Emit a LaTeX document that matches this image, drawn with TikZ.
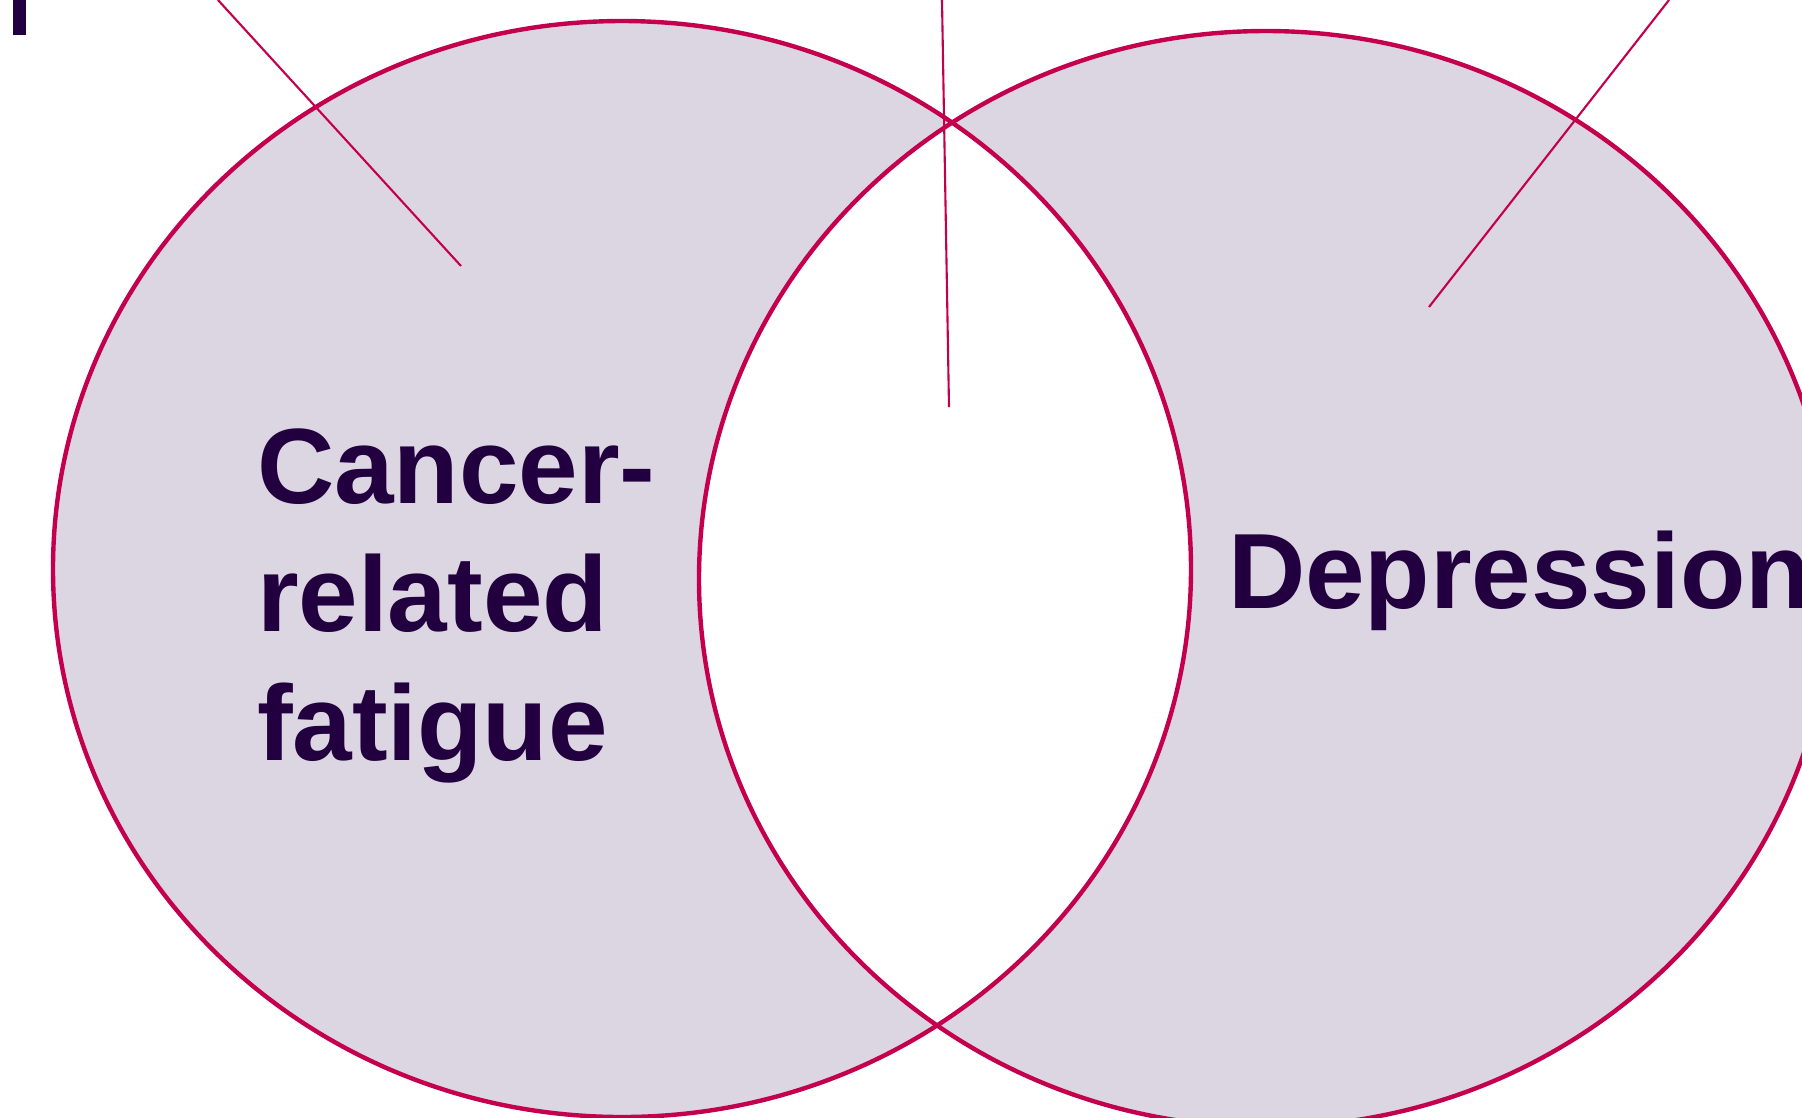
\documentclass[tikz,border=0pt]{standalone}
\usepackage{fontspec}
\setmainfont{Liberation Sans}
\definecolor{vennfill}{RGB}{220,213,226}
\definecolor{vennline}{RGB}{196,0,78}
\definecolor{venntext}{RGB}{34,0,64}
\begin{document}
\begin{tikzpicture}[x=0.01cm,y=-0.01cm,
  setline/.style={draw=vennline,line width=1.25pt},
  pointer/.style={draw=vennline,line width=0.6pt},
  setlabel/.style={text=venntext,inner sep=0pt,outer sep=0pt,
    font=\fontsize{30.44pt}{36.56pt}\selectfont\bfseries}]
\useasboundingbox (0,0) rectangle (1802,1117);
\begin{scope}
\clip (0,0) rectangle (1802,1117);
% sets: symmetric difference filled, overlap left white
\fill[vennfill,even odd rule]
  (622,569) ellipse [x radius=569, y radius=548]
  (1266,579) ellipse [x radius=567, y radius=548];
\path[setline] (622,569) ellipse [x radius=569, y radius=548];
\path[setline] (1266,579) ellipse [x radius=567, y radius=548];
% fragment of a glyph cut by the top edge
\fill[venntext] (13,0) rectangle (26,35);
% labels
\node[setlabel,anchor=base west,text width=5cm,align=left] (crf) at (257,503)
  {Cancer-\\related\\fatigue};
\node[setlabel,anchor=base west] (dep) at (1228,608) {Depression};
% pointer lines
\coordinate (p1s) at (218,0);
\coordinate (p1e) at (461,266);
\coordinate (p2s) at (942,0);
\coordinate (p2e) at (949,407);
\coordinate (p3s) at (1669,0);
\coordinate (p3e) at (1429,307);
\path[pointer] (p1s) -- (p1e);
\path[pointer] (p2s) -- (p2e);
\path[pointer] (p3s) -- (p3e);
\end{scope}
\end{tikzpicture}
\end{document}
